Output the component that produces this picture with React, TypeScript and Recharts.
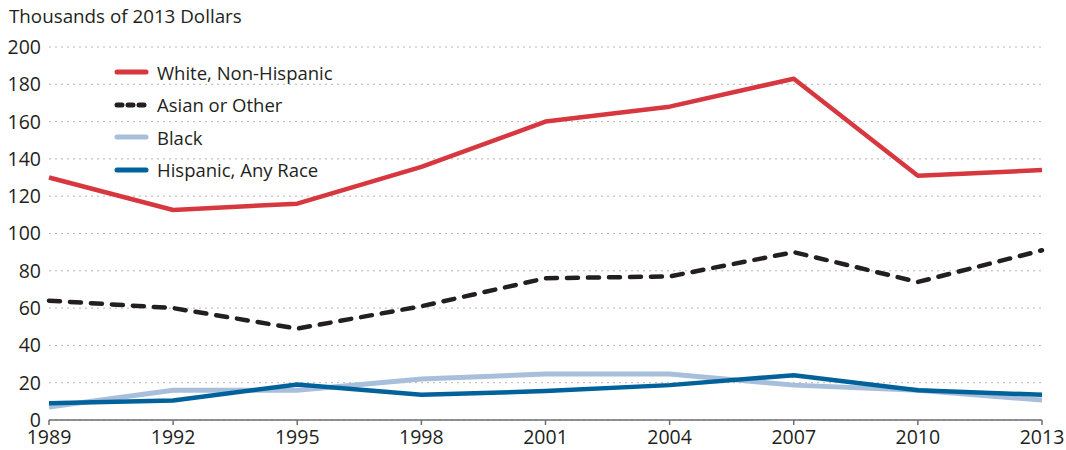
import React from "react";
import { CartesianGrid, Line, LineChart, XAxis, YAxis } from "recharts";

const years = [1989, 1992, 1995, 1998, 2001, 2004, 2007, 2010, 2013];
const white = [130, 112.6, 116, 135.7, 160, 168, 183, 131, 134];
const asian = [64, 60, 49, 61, 76, 77, 90, 74, 91];
const black = [7, 16, 16, 22, 24.6, 24.6, 18.7, 16, 10.7];
const hispanic = [9, 10.5, 19, 13.5, 15.5, 18.7, 24, 16, 13.5];
const yTicks = [0, 20, 40, 60, 80, 100, 120, 140, 160, 180, 200];

const data = years.map((year, i) => ({
  year,
  white: white[i],
  asian: asian[i],
  black: black[i],
  hispanic: hispanic[i],
}));

const FONT = "'Open Sans', sans-serif";

const legendItems = [
  { label: "White, Non-Hispanic", color: "#d7373f", dash: undefined },
  { label: "Asian or Other", color: "#231f20", dash: "5 6" },
  { label: "Black", color: "#a7bfdb", dash: undefined },
  { label: "Hispanic, Any Race", color: "#00629b", dash: undefined },
];

function LegendBox() {
  return (
    <div style={{ position: "absolute", left: 111, top: 56, fontFamily: FONT, fontSize: 18.5, color: "#231f20" }}>
      {legendItems.map((it) => (
        <div key={it.label} style={{ display: "flex", alignItems: "center", height: 32.5 }}>
          <svg width={42} height={10} style={{ marginRight: 4 }}>
            <line
              x1={6}
              x2={35}
              y1={5}
              y2={5}
              stroke={it.color}
              strokeWidth={5}
              strokeLinecap="round"
              strokeDasharray={it.dash}
            />
          </svg>
          <span>{it.label}</span>
        </div>
      ))}
    </div>
  );
}

export default function App() {
  return (
    <div style={{ position: "absolute", left: 0, top: 0, width: 1066, height: 450, background: "#fff" }}>
      <div
        style={{
          position: "absolute",
          left: 9,
          top: 3,
          fontFamily: FONT,
          fontSize: 18.8,
          color: "#231f20",
          whiteSpace: "nowrap",
        }}
      >
        Thousands of 2013 Dollars
      </div>
      <LineChart width={1066} height={450} data={data} margin={{ top: 47, right: 24, left: 0, bottom: 0 }}>
        <CartesianGrid horizontal vertical={false} stroke="#b5b5b5" strokeDasharray="2 4" />
        <XAxis
          dataKey="year"
          type="number"
          domain={[1989, 2013]}
          ticks={years}
          height={30}
          axisLine={{ stroke: "#6d6e71", strokeWidth: 1.5 }}
          tickLine={{ stroke: "#6d6e71", strokeWidth: 1.5 }}
          tickSize={5}
          tickMargin={5}
          tick={{ fill: "#231f20", fontSize: 19.5, fontFamily: FONT }}
          interval={0}
        />
        <YAxis
          domain={[0, 200]}
          ticks={yTicks}
          width={49}
          axisLine={false}
          tickLine={false}
          tick={{ fill: "#231f20", fontSize: 19.5, fontFamily: FONT }}
          interval={0}
        />
        <Line dataKey="white" stroke="#d7373f" strokeWidth={4.5} dot={false} isAnimationActive={false} strokeLinejoin="round" />
        <Line
          dataKey="asian"
          stroke="#231f20"
          strokeWidth={4.5}
          strokeDasharray="11 10"
          strokeLinecap="round"
          dot={false}
          isAnimationActive={false}
        />
        <Line dataKey="black" stroke="#a7bfdb" strokeWidth={5} dot={false} isAnimationActive={false} />
        <Line dataKey="hispanic" stroke="#00629b" strokeWidth={4.5} dot={false} isAnimationActive={false} />
      </LineChart>
      <LegendBox />
    </div>
  );
}
